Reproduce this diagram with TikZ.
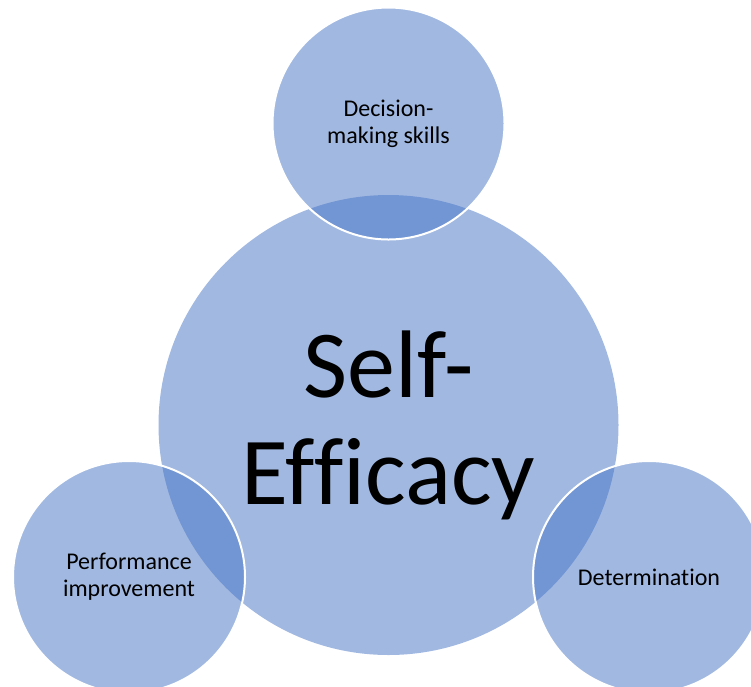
\documentclass[tikz,border=0pt]{standalone}
\usepackage{fontspec}
\setmainfont{Carlito}[Ligatures=NoCommon]
\definecolor{accent}{RGB}{68,114,196}
\begin{document}
\begin{tikzpicture}[x=1pt,y=-1pt,
  bubble/.style={circle, inner sep=0pt, fill=accent, fill opacity=0.5, text opacity=1, align=center},
  outerbubble/.style={bubble, minimum size=232pt, draw=white, draw opacity=1, line width=2pt, font=\fontsize{24}{27}\selectfont},
  corebubble/.style={bubble, minimum size=460pt, font=\fontsize{96}{107}\selectfont}]
\useasboundingbox (0,0) rectangle (751,686);
\node[corebubble] (self) at (388.5,425) {Self-\\Efficacy};
\node[outerbubble] (decision) at (388.5,123.5) {Decision-\\making skills};
\node[outerbubble] (performance) at (129,577) {Performance\\improvement};
\node[outerbubble] (determination) at (649,577) {Determination};
\end{tikzpicture}
\end{document}
